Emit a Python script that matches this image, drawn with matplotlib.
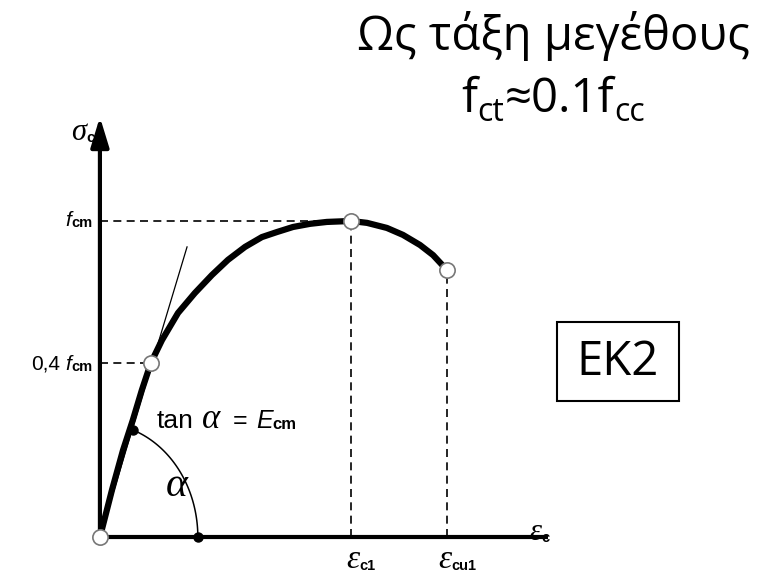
import numpy as np
import matplotlib
matplotlib.use("Agg")
import matplotlib.pyplot as plt
from matplotlib.patches import Rectangle
from matplotlib.transforms import IdentityTransform

# ---- data (normalised: strain / eps_c1, stress / f_cm) ----
curve_eps = [0.0, 0.048, 0.092, 0.131, 0.167, 0.203, 0.247, 0.311, 0.378, 0.446,
             0.510, 0.578, 0.645, 0.705, 0.769, 0.837, 0.904, 1.0, 1.064, 1.143,
             1.207, 1.275, 1.327, 1.382]
curve_sig = [0.0, 0.149, 0.275, 0.370, 0.465, 0.551, 0.623, 0.709, 0.772, 0.829,
             0.877, 0.918, 0.949, 0.965, 0.981, 0.991, 0.997, 1.0, 0.994, 0.978,
             0.956, 0.924, 0.892, 0.845]
key_eps = [0.0, 0.203, 1.0, 1.382]      # origin, 0.4fcm point, peak, ultimate
key_sig = [0.0, 0.551, 1.0, 0.845]
tangent_eps = [0.0, 0.347]
tangent_sig = [0.0, 0.918]
arc_dot_eps = [0.390, 0.131]
arc_dot_sig = [0.0, 0.339]
y_axis_top = 1.329
x_axis_end = 1.785

W, H = 765.0, 576.0
fig = plt.figure(figsize=(7.65, 5.76), dpi=100)
ax = fig.add_axes([0, 0, 1, 1])
ax.set_xlim(-0.398, 2.649)
ax.set_ylim(-0.123, 1.699)
ax.axis('off')
renderer = fig.canvas.get_renderer()

# axes
ax.plot([0, x_axis_end], [0, 0], color='black', lw=3.0, solid_capstyle='butt', zorder=2)
ax.annotate('', xy=(0, y_axis_top), xytext=(0, 0),
            arrowprops=dict(arrowstyle='-|>,head_length=1.8,head_width=0.55',
                            mutation_scale=10, lw=3.0, color='black',
                            shrinkA=0, shrinkB=0), zorder=2)

# dashed guides
dash = (0, (4.8, 3.2))
ax.plot([0, key_eps[2]], [key_sig[2], key_sig[2]], color='black', lw=1.2, ls=dash)
ax.plot([0, key_eps[1]], [key_sig[1], key_sig[1]], color='black', lw=1.2, ls=dash)
ax.plot([key_eps[2], key_eps[2]], [0, key_sig[2]], color='black', lw=1.2, ls=dash)
ax.plot([key_eps[3], key_eps[3]], [0, key_sig[3]], color='black', lw=1.2, ls=dash)

# tangent line
ax.plot(tangent_eps, tangent_sig, color='black', lw=0.9, zorder=3)

# curve
ax.plot(curve_eps, curve_sig, color='black', lw=4.5, solid_capstyle='round',
        solid_joinstyle='round', zorder=4)

# angle arc (elliptical in pixel space)
a = arc_dot_eps[0]
t1 = np.arccos(arc_dot_eps[1] / a)
b = arc_dot_sig[1] / np.sin(t1)
t = np.linspace(0, t1, 60)
ax.plot(a * np.cos(t), b * np.sin(t), color='black', lw=1.1, zorder=3)
ax.plot(arc_dot_eps, arc_dot_sig, 'o', color='black', ms=6.5, zorder=5)

# key points
ax.plot(key_eps, key_sig, 'o', ms=11, mfc='white', mec='#777777', mew=1.2,
        zorder=6, clip_on=False)

# ---- rich text helper (pixel coordinates, top-left origin, y = baseline) ----
SANS = 'Liberation Sans'
SERIF = 'Liberation Serif'


def rich(xpx, ypx, parts, ha='left'):
    """parts: (text, size, family, style, weight, drop_px, gap_px)"""
    items = []
    cur = 0.0
    for s, size, fam, style, weight, drop, gap in parts:
        cur += gap
        tx = fig.text(0, 0, s, fontsize=size, family=fam, style=style, weight=weight,
                      transform=IdentityTransform(), ha='left', va='baseline',
                      color='black')
        w = tx.get_window_extent(renderer).width
        items.append((tx, cur, drop))
        cur += w
    shift = {'left': 0.0, 'center': -cur / 2.0, 'right': -cur}[ha]
    for tx, off, drop in items:
        tx.set_position((xpx + shift + off, H - (ypx + drop)))


def data_px(x, y):
    dx, dy = ax.transData.transform((x, y))
    return dx, H - dy


# sigma_c
rich(95, 140, [('σ', 22, SERIF, 'italic', 'normal', 0, 0),
               ('c', 11, SANS, 'normal', 'bold', 2, 0)], ha='right')
# f_cm
_, yf = data_px(0, key_sig[2])
rich(93, yf + 5, [('f', 15, SANS, 'italic', 'normal', 0, 0),
                  ('cm', 10.5, SANS, 'normal', 'bold', 1, 1)], ha='right')
# 0,4 f_cm
_, y04 = data_px(0, key_sig[1])
rich(93, y04 + 7, [('0,4', 15, SANS, 'normal', 'normal', 0, 0),
                   ('f', 15, SANS, 'italic', 'normal', 0, 5),
                   ('cm', 10.5, SANS, 'normal', 'bold', 1, 1)], ha='right')
# tan alpha = E_cm
rich(157, 428, [('tan', 19, SANS, 'normal', 'normal', 0, 0),
                ('α', 25, SERIF, 'italic', 'normal', 0, 8),
                ('=', 18, SANS, 'normal', 'normal', 0, 13),
                ('E', 18, SANS, 'italic', 'normal', 0, 8),
                ('cm', 12, SANS, 'normal', 'bold', 1, 0)])
# alpha
rich(177, 496, [('α', 30, SERIF, 'italic', 'normal', 0, 0)], ha='center')
# eps labels
xc1, _ = data_px(key_eps[2], 0)
rich(xc1 - 5, 568, [('ε', 24, SERIF, 'italic', 'normal', 0, 0),
                    ('c1', 10.5, SANS, 'normal', 'bold', 2, 0)])
xcu1, _ = data_px(key_eps[3], 0)
rich(xcu1 - 9, 568, [('ε', 24, SERIF, 'italic', 'normal', 0, 0),
                     ('cu1', 10.5, SANS, 'normal', 'bold', 2, 0)])
rich(529, 540, [('ε', 22, SERIF, 'italic', 'normal', 0, 0),
                ('c', 10.5, SANS, 'normal', 'bold', 2, 0)])

# title text
OPEN = ['Open Sans', 'DejaVu Sans']
fig.text(553 / W, 1 - 36 / H, 'Ως τάξη μεγέθους', fontsize=34,
         family=OPEN, ha='center', va='center')
rich(553, 112, [('f', 34, OPEN, 'normal', 'normal', 0, 0),
                ('ct', 23, OPEN, 'normal', 'normal', 9, 0),
                ('≈0.1f', 34, OPEN, 'normal', 'normal', 0, 0),
                ('cc', 23, OPEN, 'normal', 'normal', 9, 0)], ha='center')

# EK2 box
fig.patches.append(Rectangle((557 / W, 1 - 401 / H), 122 / W, 79 / H,
                             transform=fig.transFigure, fill=False, lw=1.5,
                             edgecolor='black'))
fig.text(618 / W, 1 - 362 / H, 'EK2', fontsize=34, family=OPEN,
         ha='center', va='center')

fig.savefig('out.png', dpi=100)
